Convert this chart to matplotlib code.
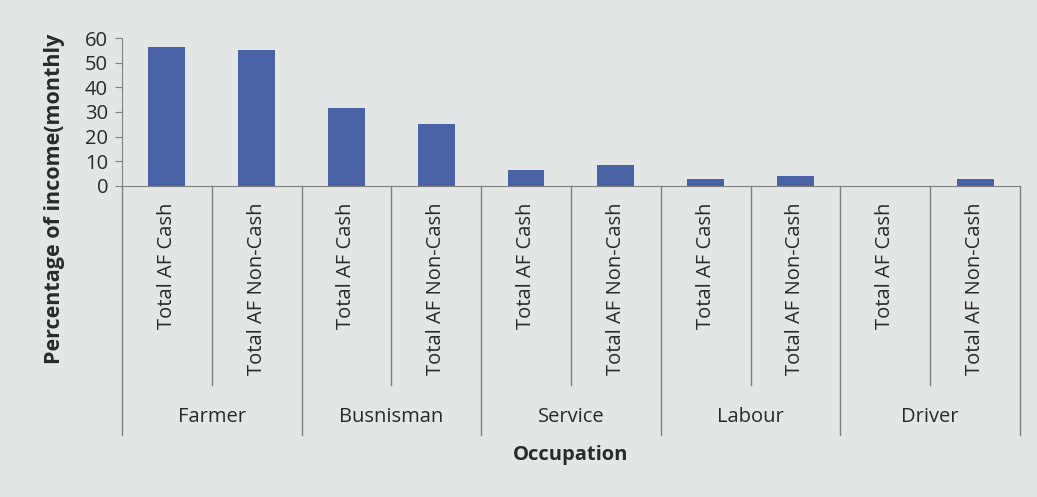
import matplotlib.pyplot as plt
import matplotlib.transforms as mtransforms
import numpy as np

plt.rcParams['font.family'] = ['Open Sans', 'DejaVu Sans']

# Share of monthly income by occupation, cash vs non-cash agroforestry income
occupations = ['Farmer', 'Busnisman', 'Service', 'Labour', 'Driver']
series_labels = ['Total AF Cash', 'Total AF Non-Cash']
cash = [56.5, 31.5, 6.5, 2.8, 0]
non_cash = [55, 25, 8.5, 4.2, 3]
y_ticks = [0, 10, 20, 30, 40, 50, 60]

bg = '#e3e6e4'
bar_color = '#4a63a6'
line_color = '#808080'
text_color = '#2a2a2a'

values = []
labels = []
for c, n in zip(cash, non_cash):
    values += [c, n]
    labels += series_labels
x = np.arange(len(values))

fig = plt.figure(figsize=(10.37, 4.97), dpi=100, facecolor=bg)
ax = fig.add_axes([0.1176, 0.6258, 0.866, 0.2977], facecolor=bg)

ax.bar(x, values, width=0.41, color=bar_color, zorder=3)

ax.set_xlim(-0.5, len(values) - 0.5)
ax.set_ylim(0, 60)
ax.set_yticks(y_ticks)
ax.tick_params(axis='y', length=5, color=line_color, labelsize=14.5,
               labelcolor=text_color, pad=5)
ax.set_xticks([])
for side in ('top', 'right'):
    ax.spines[side].set_visible(False)
ax.spines['left'].set_color(line_color)
ax.spines['bottom'].set_color(line_color)

trans = mtransforms.blended_transform_factory(ax.transData, ax.transAxes)

# category labels under each bar
for xi, lab in zip(x, labels):
    ax.text(xi, -0.11, lab, transform=trans, rotation=90, ha='center',
            va='top', fontsize=14.5, color=text_color)

# separators between bars and between groups
for xi in x[1::2] - 0.5:
    ax.plot([xi, xi], [0, -1.345], transform=trans, color=line_color,
            lw=1, clip_on=False)
for xi in np.arange(0, len(values) + 1, 2) - 0.5:
    ax.plot([xi, xi], [0, -1.68], transform=trans, color=line_color,
            lw=1, clip_on=False)

# occupation group labels
for i, occ in enumerate(occupations):
    ax.text(2 * i + 0.5, -1.56, occ, transform=trans, ha='center',
            va='center', fontsize=14.5, color=text_color)

ax.text(0.5, -1.82, 'Occupation', transform=ax.transAxes, ha='center',
        va='center', fontsize=14.5, fontweight='bold', color=text_color)
fig.text(0.053, 0.6, 'Percentage of income(monthly', rotation=90,
         ha='center', va='center', fontsize=15.5, fontweight='bold',
         color=text_color)

fig.savefig('out.png', dpi=100, facecolor=bg)
